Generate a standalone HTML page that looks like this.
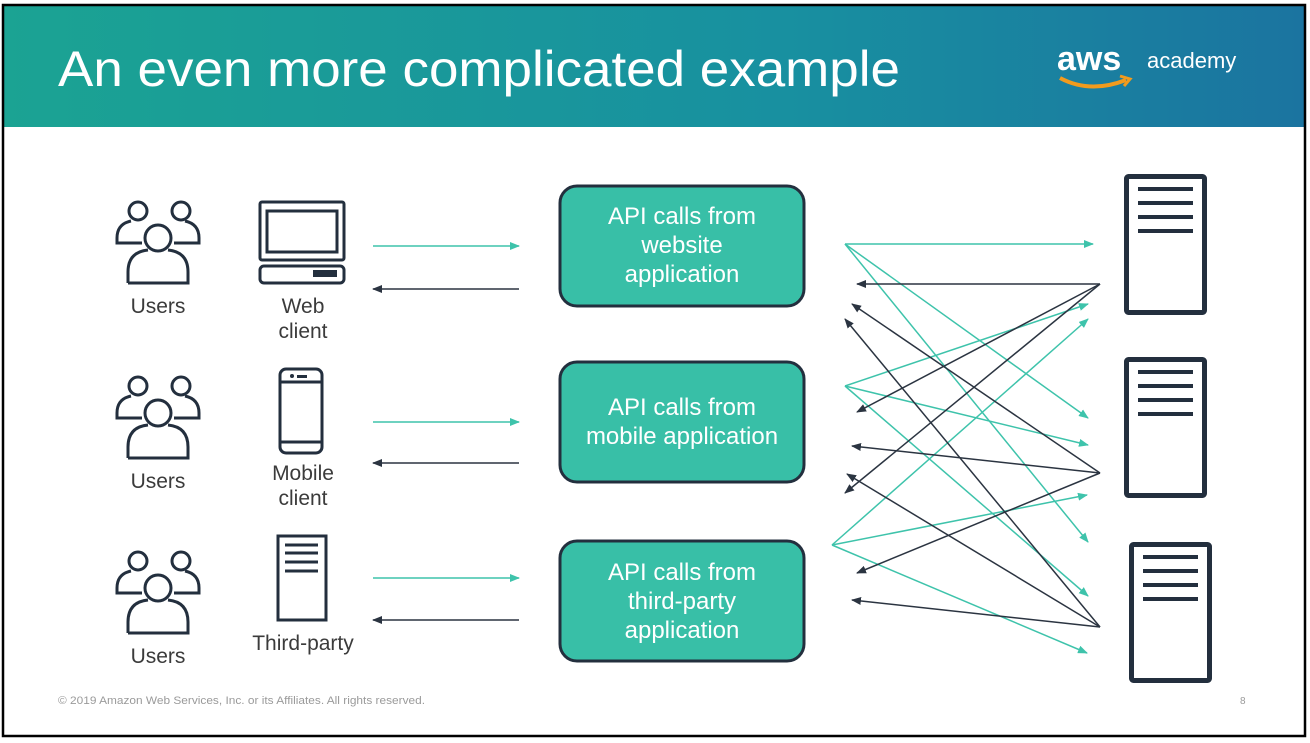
<!DOCTYPE html>
<html><head><meta charset="utf-8"><style>
html,body{margin:0;padding:0;background:#fff;}
svg{display:block;}
text{font-family:"Liberation Sans",sans-serif;}
</style></head><body>
<svg width="1310" height="743" viewBox="0 0 1310 743" xmlns="http://www.w3.org/2000/svg">
<defs>
<linearGradient id="hg" x1="0" y1="0" x2="1" y2="0">
<stop offset="0" stop-color="#1ba393"/><stop offset="0.6" stop-color="#1890a0"/><stop offset="1" stop-color="#1b74a0"/>
</linearGradient>
<marker id="ta" markerWidth="10" markerHeight="8" refX="9" refY="4" orient="auto" markerUnits="userSpaceOnUse"><path d="M0,0 L10,4 L0,8 Z" fill="#3ec3ab"/></marker>
<marker id="da" markerWidth="10" markerHeight="8" refX="9" refY="4" orient="auto" markerUnits="userSpaceOnUse"><path d="M0,0 L10,4 L0,8 Z" fill="#2b3441"/></marker>
<g id="users" fill="none" stroke="#232f3e" stroke-width="3">
<circle cx="138" cy="211" r="9"/><circle cx="181" cy="211" r="9"/>
<path d="M142,243 H117 V238 Q117,224 131,221"/>
<path d="M174,243 H199 V238 Q199,224 185,221"/>
<circle cx="158" cy="238" r="13" fill="#fff"/>
<path d="M128,283 V272 Q128,252 148,250 M168,250 Q188,252 188,272 V283 H128"/>
</g>
<g id="srv" fill="none" stroke="#232f3e">
<rect x="1126.5" y="176.5" width="78" height="136" rx="2" stroke-width="5"/>
<path d="M1138,189 H1193 M1138,203 H1193 M1138,217 H1193 M1138,231 H1193" stroke-width="4"/>
</g>
</defs>
<rect x="3" y="5" width="1302" height="122" fill="url(#hg)"/>
<text x="58" y="86" font-size="50" fill="#fff" textLength="842" lengthAdjust="spacingAndGlyphs">An even more complicated example</text>
<text x="1057" y="70" font-size="34" font-weight="bold" fill="#fff">aws</text>
<path d="M1060,78 Q1090,94 1126,80" fill="none" stroke="#f29b1d" stroke-width="4"/>
<path d="M1120,76 L1130,79 L1124,86" fill="none" stroke="#f29b1d" stroke-width="3"/>
<text x="1147" y="68" font-size="22" fill="#fff">academy</text>
<rect x="3" y="5" width="1302" height="731" fill="none" stroke="#000" stroke-width="2.5"/>

<use href="#users"/>
<use href="#users" y="175"/>
<use href="#users" y="350"/>
<g font-size="21" fill="#3b3b3b" text-anchor="middle">
<text x="158" y="313">Users</text><text x="158" y="488">Users</text><text x="158" y="663">Users</text>
<text x="303" y="313">Web</text><text x="303" y="338">client</text>
<text x="303" y="480">Mobile</text><text x="303" y="505">client</text>
<text x="303" y="650">Third-party</text>
</g>
<g fill="none" stroke="#232f3e" stroke-width="3">
<rect x="260" y="202" width="84" height="58" rx="2"/>
<rect x="267" y="211" width="70" height="41"/>
<rect x="260" y="266" width="84" height="17" rx="4"/>
<rect x="280" y="369" width="42" height="84" rx="6"/>
<path d="M280,382 H322 M280,442 H322"/>
<rect x="278" y="536" width="48" height="84"/>
<path d="M285,545 H318 M285,553 H318 M285,562 H318 M285,571 H318"/>
</g>
<rect x="313" y="270" width="24" height="7" fill="#232f3e"/>
<circle cx="292" cy="376" r="2" fill="#232f3e"/><rect x="297" y="375" width="10" height="3" fill="#232f3e"/>

<g stroke-width="1.6">
<line x1="373" y1="246" x2="519" y2="246" stroke="#3ec3ab" marker-end="url(#ta)"/>
<line x1="519" y1="289" x2="373" y2="289" stroke="#2b3441" marker-end="url(#da)"/>
<line x1="373" y1="422" x2="519" y2="422" stroke="#3ec3ab" marker-end="url(#ta)"/>
<line x1="519" y1="463" x2="373" y2="463" stroke="#2b3441" marker-end="url(#da)"/>
<line x1="373" y1="578" x2="519" y2="578" stroke="#3ec3ab" marker-end="url(#ta)"/>
<line x1="519" y1="620" x2="373" y2="620" stroke="#2b3441" marker-end="url(#da)"/>
</g>

<g fill="#38bfa7" stroke="#232f3e" stroke-width="3">
<rect x="560" y="186" width="244" height="120" rx="17"/>
<rect x="560" y="362" width="244" height="120" rx="17"/>
<rect x="560" y="541" width="244" height="120" rx="17"/>
</g>
<g font-size="24" fill="#fff" text-anchor="middle">
<text x="682" y="224">API calls from</text><text x="682" y="253">website</text><text x="682" y="282">application</text>
<text x="682" y="415">API calls from</text><text x="682" y="444">mobile application</text>
<text x="682" y="580">API calls from</text><text x="682" y="609">third-party</text><text x="682" y="638">application</text>
</g>

<g stroke="#3ec3ab" stroke-width="1.5" marker-end="url(#ta)">
<line x1="845" y1="244" x2="1093" y2="244"/>
<line x1="845" y1="244" x2="1088" y2="418"/>
<line x1="845" y1="244" x2="1088" y2="542"/>
<line x1="845" y1="386" x2="1088" y2="304"/>
<line x1="845" y1="386" x2="1088" y2="445"/>
<line x1="845" y1="386" x2="1088" y2="596"/>
<line x1="832" y1="545" x2="1088" y2="319"/>
<line x1="832" y1="545" x2="1087" y2="495"/>
<line x1="832" y1="545" x2="1087" y2="653"/>
</g>
<g stroke="#2b3441" stroke-width="1.5" marker-end="url(#da)">
<line x1="1100" y1="284" x2="857" y2="284"/>
<line x1="1100" y1="284" x2="857" y2="412"/>
<line x1="1100" y1="284" x2="845" y2="493"/>
<line x1="1100" y1="473" x2="852" y2="304"/>
<line x1="1100" y1="473" x2="852" y2="446"/>
<line x1="1100" y1="473" x2="857" y2="573"/>
<line x1="1100" y1="627" x2="845" y2="319"/>
<line x1="1100" y1="627" x2="847" y2="474"/>
<line x1="1100" y1="627" x2="852" y2="600"/>
</g>

<use href="#srv"/>
<use href="#srv" y="183"/>
<use href="#srv" x="5" y="368"/>

<text x="58" y="704" font-size="11" fill="#9a9a9a" textLength="367" lengthAdjust="spacingAndGlyphs">© 2019 Amazon Web Services, Inc. or its Affiliates. All rights reserved.</text>
<text x="1240" y="704" font-size="10" fill="#9a9a9a">8</text>
</svg>
</body></html>
